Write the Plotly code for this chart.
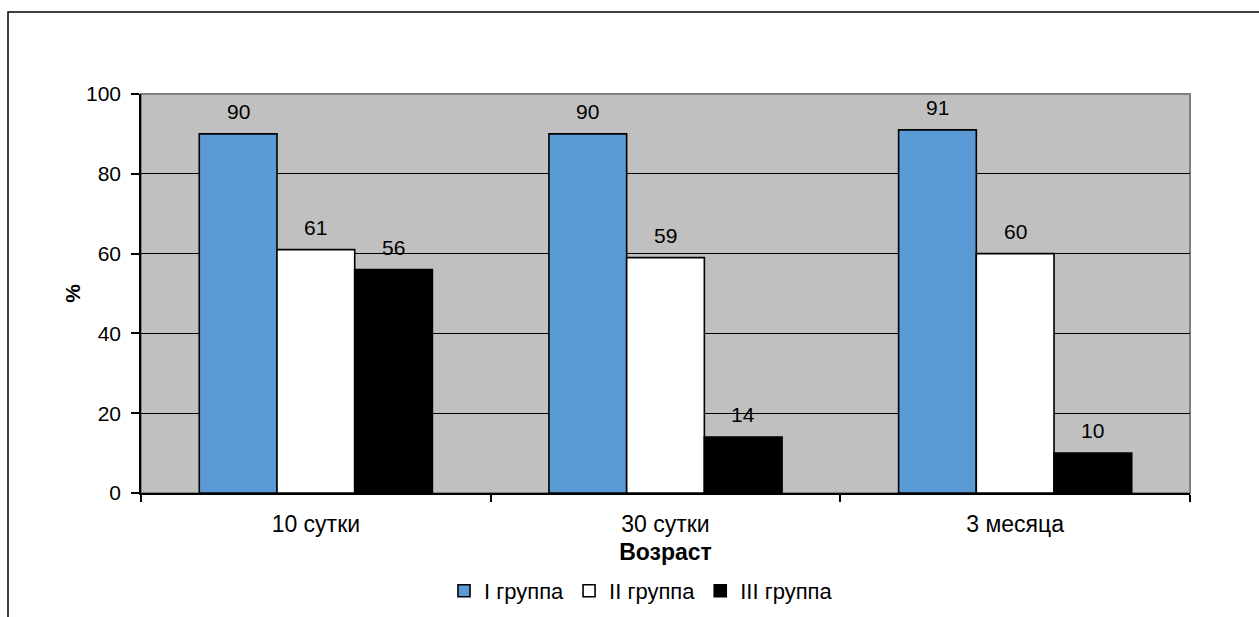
import plotly.graph_objects as go

# Ages at examination and share (%) of each group
categories = ["10 сутки", "30 сутки", "3 месяца"]
group_names = ["I группа", "II группа", "III группа"]
group_1 = [90, 90, 91]
group_2 = [61, 59, 60]
group_3 = [56, 14, 10]
y_ticks = [0, 20, 40, 60, 80, 100]

series = [group_1, group_2, group_3]
fills = ["#5B9BD5", "#FFFFFF", "#000000"]

FONT = "Liberation Sans, Arial, sans-serif"
NUM_SIZE = 21
TXT_SIZE = 23
BARGAP = 1 / 3
n_groups = len(series)
bar_w = (1 - BARGAP) / n_groups

fig = go.Figure()
for name, vals, col in zip(group_names, series, fills):
    fig.add_trace(go.Bar(
        x=categories, y=vals, name=name,
        marker=dict(color=col, line=dict(color="#000000", width=1.6)),
    ))

# value labels above each bar
for k, vals in enumerate(series):
    for i, v in enumerate(vals):
        fig.add_annotation(
            x=i + (k - (n_groups - 1) / 2) * bar_w, y=v,
            xref="x", yref="y", text=str(v), showarrow=False,
            yanchor="bottom", yshift=9,
            font=dict(family=FONT, size=NUM_SIZE, color="#000000"),
        )

L, R, T, B = 141, 69, 94, 124
W, H = 1259, 617
pw, ph = W - L - R, H - T - B

def px_x(p):
    return (p - L) / pw

def px_y(p):
    return (H - B - p) / ph

# outer frame
fig.add_shape(type="rect", xref="paper", yref="paper",
              x0=px_x(8), x1=px_x(W + 10), y0=px_y(H + 10), y1=px_y(12),
              line=dict(color="#000000", width=1.5), fillcolor="rgba(0,0,0,0)",
              layer="below")
# plot area border (top/right in grey)
fig.add_shape(type="rect", xref="paper", yref="paper", x0=0, x1=1, y0=0, y1=1,
              line=dict(color="#808080", width=2), fillcolor="rgba(0,0,0,0)",
              layer="below")

fig.update_layout(
    width=W, height=H,
    margin=dict(l=L, r=R, t=T, b=B, autoexpand=False),
    paper_bgcolor="#FFFFFF", plot_bgcolor="#C0C0C0",
    barmode="group", bargap=BARGAP, bargroupgap=0,
    font=dict(family=FONT, size=NUM_SIZE, color="#000000"),
    showlegend=True,
    legend=dict(orientation="h", x=px_x(641), xanchor="center",
                y=px_y(591), yanchor="middle",
                font=dict(family=FONT, size=TXT_SIZE - 1, color="#000000"),
                bgcolor="rgba(0,0,0,0)", itemwidth=30, tracegroupgap=0),
)
fig.update_xaxes(
    type="category", showline=True, linecolor="#000000", linewidth=1.5,
    ticks="outside", tickson="boundaries", ticklen=7, tickcolor="#000000",
    tickwidth=1.5, showgrid=False, zeroline=False, ticklabelstandoff=10,
    automargin=False,
    tickfont=dict(family=FONT, size=TXT_SIZE, color="#000000"),
    title=dict(text="<b>Возраст</b>", font=dict(family=FONT, size=TXT_SIZE, color="#000000"),
               standoff=8),
)
fig.update_yaxes(
    range=[0, 100], tickvals=y_ticks, showline=True, linecolor="#000000",
    linewidth=1.5, ticks="outside", ticklen=8, tickcolor="#000000", tickwidth=1.5,
    showgrid=True, gridcolor="#000000", gridwidth=1, zeroline=False,
    ticklabelstandoff=6, automargin=False,
    tickfont=dict(family=FONT, size=NUM_SIZE, color="#000000"),
    title=dict(text="<b>%</b>", font=dict(family=FONT, size=NUM_SIZE, color="#000000"),
               standoff=0),
)

fig.write_html("out.html")
